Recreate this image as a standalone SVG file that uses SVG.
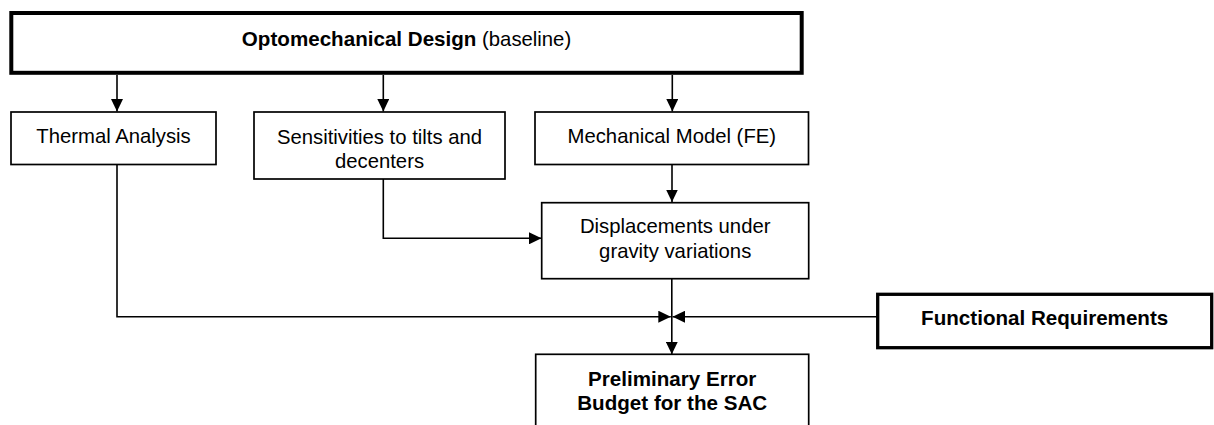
<svg xmlns="http://www.w3.org/2000/svg" width="1214" height="425" viewBox="0 0 1214 425">
<defs>
<marker id="arr" markerUnits="userSpaceOnUse" markerWidth="13" markerHeight="12" refX="12.5" refY="6" orient="auto">
<path d="M0,0 L12.5,6 L0,12 z" fill="#000"/>
</marker>
<style>
.box{fill:#fff;stroke:#000;stroke-width:1.7}
.thick{fill:#fff;stroke:#000;stroke-width:4}
.mid{fill:#fff;stroke:#000;stroke-width:3.3}
.t{font-family:"Liberation Sans",Arial,sans-serif;font-size:20.3px;fill:#000;text-anchor:middle}
.b{font-family:"Liberation Sans",Arial,sans-serif;font-size:20.6px;font-weight:bold;fill:#000;text-anchor:middle}
.c{fill:none;stroke:#000;stroke-width:1.6;marker-end:url(#arr)}
</style>
</defs>
<rect width="1214" height="425" fill="#fff"/>
<g id="connectors">
<line class="c" x1="117" y1="75" x2="117" y2="111.5"/>
<line class="c" x1="383.3" y1="75" x2="383.3" y2="111.5"/>
<line class="c" x1="672.3" y1="75" x2="672.3" y2="111.5"/>
<line class="c" x1="672" y1="165" x2="672" y2="202"/>
<polyline class="c" points="383.3,179 383.3,238.3 541.5,238.3"/>
<polyline class="c" points="117,164.5 117,316.7 670.8,316.7"/>
<line class="c" x1="877" y1="316.7" x2="672.6" y2="316.7"/>
<line class="c" x1="671.8" y1="279" x2="671.8" y2="354.3"/>
</g>
<g id="optomechanical">
<rect class="thick" x="11.3" y="13" width="790.4" height="59.8"/>
<text class="t" x="406.5" y="45.5"><tspan font-weight="bold" font-size="20.6px">Optomechanical Design</tspan> (baseline)</text>
</g>
<g id="thermal">
<rect class="box" x="11" y="112" width="205" height="52.5"/>
<text class="t" x="113.5" y="143">Thermal Analysis</text>
</g>
<g id="sensitivities">
<rect class="box" x="254" y="112" width="251" height="67"/>
<text class="t" x="379.5" y="144">Sensitivities to tilts and</text>
<text class="t" x="379.5" y="168">decenters</text>
</g>
<g id="mechanical">
<rect class="box" x="535" y="112" width="273.5" height="52.5"/>
<text class="t" x="671.8" y="143.3">Mechanical Model (FE)</text>
</g>
<g id="displacements">
<rect class="box" x="541.7" y="202.7" width="267" height="76"/>
<text class="t" x="675.2" y="233.3">Displacements under</text>
<text class="t" x="675.2" y="257.5">gravity variations</text>
</g>
<g id="functional">
<rect class="mid" x="877.7" y="294.3" width="334" height="53.4"/>
<text class="b" x="1044.7" y="325">Functional Requirements</text>
</g>
<g id="preliminary">
<rect class="box" x="535.7" y="354.3" width="273" height="90"/>
<text class="b" x="672.2" y="386">Preliminary Error</text>
<text class="b" x="672.2" y="410">Budget for the SAC</text>
</g>
</svg>
